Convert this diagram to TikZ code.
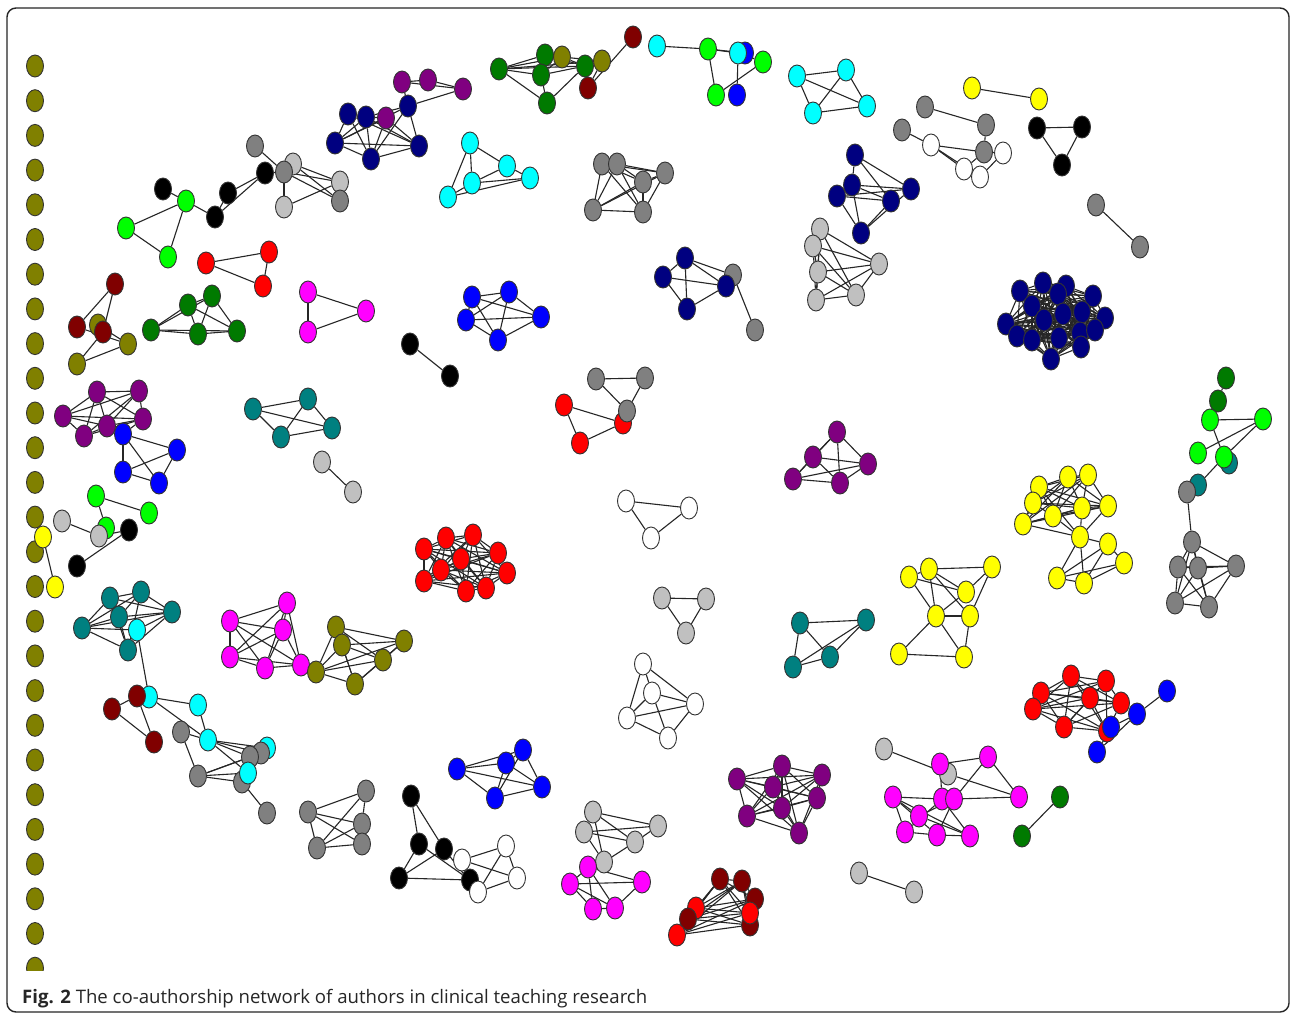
\documentclass[tikz,border=0pt]{standalone}
\usepackage{fontspec}
\newfontfamily\capfont{Open Sans}
\usepackage{tikz}
\usetikzlibrary{shapes.geometric,backgrounds}
\definecolor{cOl}{HTML}{808000}
\definecolor{cDg}{HTML}{007A00}
\definecolor{cLg}{HTML}{00FF00}
\definecolor{cCy}{HTML}{00FFFF}
\definecolor{cBl}{HTML}{0000FF}
\definecolor{cNv}{HTML}{000080}
\definecolor{cPu}{HTML}{800080}
\definecolor{cTe}{HTML}{008080}
\definecolor{cRd}{HTML}{FF0000}
\definecolor{cMr}{HTML}{800000}
\definecolor{cMg}{HTML}{FF00FF}
\definecolor{cYe}{HTML}{FFFF00}
\definecolor{cGy}{HTML}{808080}
\definecolor{cSv}{HTML}{C0C0C0}
\tikzset{
  au/.style={ellipse, draw=black!80, line width=0.9pt, inner sep=0pt, minimum width=17pt, minimum height=22pt},
  ol/.style={au, fill=cOl}, dg/.style={au, fill=cDg}, lg/.style={au, fill=cLg},
  cy/.style={au, fill=cCy}, bl/.style={au, fill=cBl}, nv/.style={au, fill=cNv},
  pu/.style={au, fill=cPu}, te/.style={au, fill=cTe}, rd/.style={au, fill=cRd},
  mr/.style={au, fill=cMr}, mg/.style={au, fill=cMg}, ye/.style={au, fill=cYe},
  gy/.style={au, fill=cGy}, sv/.style={au, fill=cSv}, wh/.style={au, fill=white},
  bk/.style={au, fill=black},
  tie/.style={draw=black!85, line width=1.1pt},
  frame/.style={draw=black!85, line width=1.4pt, rounded corners=9pt},
}
\newcommand{\linkall}[2]{%
  \foreach \a in {1,...,#2}{\foreach \b in {1,...,#2}{\ifnum\a<\b\relax\draw[tie] (#1\a) -- (#1\b);\fi}}}
\begin{document}
\begin{tikzpicture}[x=1pt,y=-1pt]
\useasboundingbox (0,0) rectangle (1290,1014);
\begin{pgfonlayer}{background}
\fill[white] (0,0) rectangle (1290,1014);
\end{pgfonlayer}
\draw[frame] (7,8) rectangle (1289,1012);
\node[anchor=base west, inner sep=0pt, text=black!85, font=\capfont\fontsize{18.6}{22}\selectfont] (cap) at (22,1003)
  {\textbf{Fig. 2} The co-authorship network of authors in clinical teaching research};
% isolated authors
\begin{scope}
\clip (0,0) rectangle (1290,970);
\foreach \i in {0,...,26} \node[ol] (o\i) at (35,{66+34.7*\i}) {};
\end{scope}
% upper arc
\foreach \n/\s/\x/\y in {g1/gy/255/146, k4/bk/265/173, g2/sv/293/164, g3/gy/284/172, g4/sv/340/182, g5/gy/340/201,
  g6/sv/284/207, k1/bk/163/189, k2/bk/228/193, k3/bk/215/217, l1/lg/186/201, l2/lg/126/228, l3/lg/168/257,
  r1/rd/206/263, r2/rd/269/252, r3/rd/263/286, m1/mg/308/292, m2/mg/366/311, m3/mg/308/332,
  e1/mr/115/284, e3/ol/98/325, e2/mr/77/327, e4/mr/103/332, e5/ol/128/344, e6/ol/77/364,
  n1/nv/348/114, n2/nv/366/117, p4/pu/386/118, n3/nv/408/106, n4/nv/335/143, n5/nv/371/159, n6/nv/419/146,
  p1/pu/402/82, p2/pu/428/80, p3/pu/463/89,
  q1/dg/499/69, q2/dg/545/55, q3/dg/541/75, q6/ol/562/57, q4/dg/585/66, q7/ol/602/61, q8/mr/588/88, q5/dg/547/103, q9/mr/633/37,
  c1/cy/657/46, c2/lg/708/49, c3/bl/745/53, c4/cy/738/53, c5/lg/763/62, c6/lg/716/95, c7/bl/737/95,
  t1/cy/470/143, t2/cy/507/166, t3/cy/530/178, t4/cy/472/183, t5/cy/448/197,
  v1/nv/685/258, v2/nv/663/277, v5/gy/733/275, v3/nv/726/286, v4/nv/687/309, v6/gy/755/330,
  x1/nv/855/155, x2/nv/852/185, x3/nv/837/196, x5/nv/911/189, x4/nv/891/201, x6/nv/861/233,
  z1/ye/972/88, z2/ye/1039/99, z3/gy/925/107, z4/gy/986/125, z5/gy/902/130, z6/wh/931/145, z8/wh/1003/153,
  z7/gy/984/152, z9/wh/964/169, z10/wh/980/177, a1/bk/1037/128, a2/bk/1082/127, a3/bk/1062/165,
  a4/gy/1096/205, a5/gy/1140/247}
  \node[\s] (\n) at (\x,\y) {};
\foreach \i/\x/\y in {1/212/296, 2/188/305, 3/151/330, 4/198/334, 5/237/331} \node[dg] (D\i) at (\x,\y) {};
\foreach \i/\x/\y in {1/797/76, 2/846/70, 3/813/113, 4/867/106} \node[cy] (S\i) at (\x,\y) {};
\foreach \i/\x/\y in {1/602/164, 2/617/164, 3/665/173, 4/643/182, 5/593/210, 6/643/212} \node[gy] (U\i) at (\x,\y) {};
\foreach \i/\x/\y in {1/472/297, 2/509/292, 3/466/320, 4/541/317, 5/498/340} \node[bl] (W\i) at (\x,\y) {};
\foreach \i/\x/\y in {1/820/229, 2/813/246, 3/818/272, 4/816/300, 5/856/295, 6/879/264} \node[sv] (Y\i) at (\x,\y) {};
\foreach \i/\x/\y in {1/1020/291, 2/1043/283, 3/1066/286, 4/1093/296, 5/1058/294, 6/1032/306, 7/1082/312,
  8/1105/318, 9/1006/324, 10/1044/320, 11/1063/314, 12/1017/336, 13/1032/340, 14/1059/338, 15/1080/333,
  16/1051/359, 17/1081/347, 18/1095/330} \node[nv] (B\i) at (\x,\y) {};
% left side
\foreach \i/\x/\y in {1/97/392, 2/139/391, 3/63/416, 4/143/419, 5/107/426, 6/84/436} \node[pu] (H\i) at (\x,\y) {};
\foreach \i/\x/\y in {1/253/409, 2/308/399, 3/281/437, 4/332/428} \node[te] (J\i) at (\x,\y) {};
\foreach \i/\x/\y in {1/110/598, 2/141/592, 3/119/617, 4/172/612, 5/82/628, 6/128/650} \node[te] (T\i) at (\x,\y) {};
\foreach \i/\x/\y in {1/287/603, 2/230/621, 3/283/630, 4/230/657, 5/265/668, 6/301/665} \node[mg] (M\i) at (\x,\y) {};
\foreach \i/\x/\y in {1/336/627, 2/342/645, 3/404/641, 4/383/660, 5/316/672, 6/355/684} \node[ol] (L\i) at (\x,\y) {};
\foreach \n/\s/\x/\y in {i1/bl/123/434, i2/bl/177/450, i3/bl/123/472, i4/bl/159/483, j5/sv/322/462, j6/sv/353/492,
  f1/lg/96/496, f2/lg/149/513, f3/lg/106/528, f4/sv/62/521, f5/sv/99/536, f6/bk/129/530, f7/bk/77/566,
  f8/ye/43/537, f9/ye/55/587, cT/cy/137/630}
  \node[\s] (\n) at (\x,\y) {};
% centre
\foreach \n/\s/\x/\y in {bb1/bk/410/344, bb2/bk/450/376, rr1/rd/564/405, rr2/rd/623/423, rr3/rd/580/443,
  gr1/gy/596/379, gr2/gy/645/378, gr3/gy/627/411, wt1/wh/626/501, wt2/wh/689/508, wt3/wh/651/538,
  lt1/sv/662/598, lt2/sv/706/599, lt3/sv/686/633, wc1/wh/643/664, wc2/wh/652/693, wc3/wh/627/718,
  wc4/wh/695/704, wc5/wh/668/738}
  \node[\s] (\n) at (\x,\y) {};
\foreach \i/\x/\y in {1/837/432, 2/813/457, 3/793/479, 4/840/483, 5/868/464} \node[pu] (P\i) at (\x,\y) {};
\foreach \i/\x/\y in {1/424/549, 2/446/538, 3/473/535, 4/498/553, 5/461/559, 6/441/570, 7/507/573,
  8/424/581, 9/466/591, 10/486/588} \node[rd] (R\i) at (\x,\y) {};
\foreach \i/\x/\y in {1/800/623, 2/866/620, 3/793/667, 4/830/657} \node[te] (C\i) at (\x,\y) {};
% right side
\foreach \n/\s/\x/\y in {dg1/dg/1226/378, dg2/dg/1218/401, lg1/lg/1210/420, lg2/lg/1263/419, lg3/lg/1198/453,
  te1/te/1229/463, lg4/lg/1224/457, te2/te/1198/485, gy1/gy/1187/492}
  \node[\s] (\n) at (\x,\y) {};
\foreach \i/\x/\y in {1/1192/542, 2/1178/567, 3/1198/568, 4/1236/566, 5/1175/603, 6/1209/607} \node[gy] (G\i) at (\x,\y) {};
\foreach \i/\x/\y in {1/1039/487, 2/1068/477, 3/1088/475, 4/1033/503, 5/1053/516, 6/1082/508, 7/1108/506,
  8/1023/524, 9/1080/537, 10/1108/544, 11/1124/563, 12/1057/578, 13/1084/583} \node[ye] (A\i) at (\x,\y) {};
\foreach \i/\x/\y in {1/909/577, 2/929/569, 3/992/567, 4/966/592, 5/936/616, 6/970/616, 7/899/654, 8/964/657}
  \node[ye] (E\i) at (\x,\y) {};
% lower arc
\foreach \n/\s/\x/\y in {cl1/cy/149/697, er1/mr/112/709, er2/mr/137/696, er3/mr/154/742, cl2/cy/198/705,
  gl1/gy/181/732, cl3/cy/208/740, cl4/cy/267/748, gl3/gy/261/753, gl4/gy/250/757, gl2/gy/198/776,
  gl5/gy/242/782, cl5/cy/248/773, gl6/gy/267/813,
  gb1/gy/308/812, gb2/gy/366/791, gb3/gy/362/824, gb4/gy/362/844, gb5/gy/317/848,
  bk1/bk/411/796, bk2/bk/419/844, bk3/bk/399/878, bk4/bk/444/849, wb1/wh/462/860, wb2/wh/506/846,
  bk5/bk/470/880, wb3/wh/517/878, wb4/wh/478/892,
  ls1/sv/593/812, ls2/sv/584/832, ls3/sv/658/826, ls4/sv/635/842, ls5/sv/604/862,
  mb1/mg/588/867, mb2/mg/570/884, mb3/mg/642/882, mb4/mg/593/909, mb5/mg/615/908,
  sR1/sv/884/749, sR2/sv/948/774, mR1/mg/940/764, mR2/mg/988/757, mR3/mg/1019/797, mR4/mg/893/797,
  mR5/mg/942/799, mR6/mg/954/799, mR7/mg/919/816, mR8/mg/905/832, mR9/mg/937/835, mR10/mg/970/836,
  dR1/dg/1060/797, dR2/dg/1022/836, sR3/sv/859/873, sR4/sv/914/892}
  \node[\s] (\n) at (\x,\y) {};
\foreach \i/\x/\y in {1/457/769, 2/506/763, 3/523/750, 4/542/787, 5/495/798} \node[bl] (V\i) at (\x,\y) {};
\foreach \i/\x/\y in {1/737/779, 2/782/766, 3/822/775, 4/773/787, 5/817/798, 6/782/808, 7/747/816, 8/799/833}
  \node[pu] (Q\i) at (\x,\y) {};
\foreach \i/\s/\x/\y in {1/rd/696/908, 2/mr/720/879, 3/mr/742/881, 4/mr/755/899, 5/mr/688/919, 6/rd/677/935,
  7/mr/750/925, 8/rd/750/913} \node[\s] (K\i) at (\x,\y) {};
\foreach \i/\x/\y in {1/1071/676, 2/1106/681, 3/1041/693, 4/1033/709, 5/1090/698, 6/1121/703, 7/1064/727,
  8/1107/731} \node[rd] (X\i) at (\x,\y) {};
\foreach \n/\x/\y in {bR1/1167/691, bR2/1137/714, bR3/1111/727, bR4/1097/752} \node[bl] (\n) at (\x,\y) {};
% ties
\begin{pgfonlayer}{background}
\foreach \p/\q in {k1/l1, l1/l2, l1/l3, l2/l3, l1/k3, k3/k2, k3/k4, k2/k4, g1/g3, k4/g3, g2/g4, g2/g5, g3/g4,
  g3/g5, g3/g6, g6/g4, g2/g3, r1/r2, r1/r3, r2/r3, m1/m2, m1/m3, m2/m3,
  e1/e2, e1/e4, e2/e5, e3/e5, e6/e5, e6/e4,
  p1/p2, p2/p3, p1/p3, p1/n3, n3/p3, n1/n2, n1/n4, n1/n5, n1/n6, n2/n4, n2/n5, n2/n6, n2/p4, n4/n5, n4/n6,
  n5/n6, n3/n6, n3/n2, n3/n4, p4/n6, p4/n4, n3/n5, p4/n5,
  q1/q2, q1/q3, q1/q4, q1/q5, q1/q6, q2/q4, q3/q4, q2/q3, q3/q5, q5/q4, q6/q4, q6/q7, q4/q7, q8/q9, q2/q6,
  q3/q6, q8/q7, q1/q7,
  c1/c2, c2/c4, c2/c6, c4/c7, c5/c6, c4/c5, c2/c3,
  t1/t2, t1/t4, t1/t5, t2/t3, t4/t3, t5/t3, t5/t4, t4/t2,
  v1/v2, v1/v4, v1/v3, v2/v3, v2/v4, v4/v3, v5/v6, v1/v5,
  x1/x2, x1/x5, x1/x4, x2/x3, x2/x4, x2/x5, x3/x4, x3/x5, x3/x6, x6/x4, x6/x5, x2/x6,
  z1/z2, z3/z4, z5/z6, z6/z7, z6/z9, z6/z10, z7/z8, z10/z8, z4/z7, z9/z7,
  a1/a2, a1/a3, a2/a3, a4/a5}
  \draw[tie] (\p) -- (\q);
\foreach \p/\q in {i1/i2, i1/i3, i1/i4, i3/i2, i3/i4, i4/i2, i1/H4, j5/j6,
  f1/f2, f1/f3, f4/f5, f6/f7, f8/f9, f5/f6, cT/T5, cT/T4, cT/cl1, M6/L5,
  bb1/bb2, gr1/gr2, gr1/gr3, gr2/gr3, rr1/rr2, rr1/rr3, rr3/rr2, wt1/wt2, wt1/wt3, wt2/wt3,
  lt1/lt2, lt1/lt3, lt2/lt3, wc1/wc2, wc1/wc3, wc1/wc4, wc2/wc4, wc2/wc3, wc2/wc5, wc3/wc4, wc3/wc5, wc5/wc4,
  lg1/lg2, lg1/lg4, lg3/lg2, lg4/lg2, lg4/te2, gy1/G1, dg1/dg2, dg2/lg1,
  A1/A9, A5/A9, A6/A9, A8/A9, A7/A9, A9/A10, A9/A12, A9/A13, A10/A11, A12/A13, A12/A11, A13/A11, A12/A10, A13/A10,
  E1/E2, E1/E4, E1/E5, E2/E3, E2/E4, E2/E6, E3/E4, E3/E6, E4/E5, E5/E6, E5/E7, E6/E8, E7/E8, E5/E8, E2/E5}
  \draw[tie] (\p) -- (\q);
\foreach \p/\q in {er1/er2, er1/er3, er2/er3, cl1/cl2, cl1/cl3, cl2/cl3, gl1/cl3, gl1/gl2, cl3/gl3, cl3/gl4,
  cl3/cl5, gl2/gl4, gl2/cl5, gl2/gl5, gl5/gl6, cl3/cl4, gl2/gl3,
  gb1/gb2, gb1/gb3, gb1/gb4, gb1/gb5, gb5/gb2, gb5/gb3, gb5/gb4, gb2/gb3, gb3/gb4,
  bk1/bk2, bk1/bk4, bk2/bk3, bk3/bk4, bk3/bk5, bk2/bk5, wb1/wb2, wb1/wb3, wb2/wb4, wb4/wb3, wb2/wb3, bk4/wb4,
  ls1/ls2, ls1/ls3, ls1/ls4, ls2/ls3, ls2/ls4, ls2/ls5, ls4/ls5, ls4/ls3, ls1/ls5,
  mb1/mb2, mb1/mb3, mb1/mb5, mb2/mb3, mb2/mb4, mb4/mb5, mb5/mb3, mb2/mb5, mb1/mb4,
  bR1/bR2, bR2/bR3, bR2/bR4, bR3/bR4, bR3/X8,
  sR1/sR2, sR2/mR3, mR1/mR2, mR2/mR3, mR2/mR6, mR4/mR5, mR6/mR3, mR4/mR7, mR4/mR8, mR4/mR10, mR7/mR10,
  mR8/mR9, mR9/mR10, mR5/mR10, mR6/mR9, mR7/mR6, mR8/mR5, mR1/mR5, mR4/mR9,
  dR1/dR2, sR3/sR4}
  \draw[tie] (\p) -- (\q);
\linkall{D}{5} \linkall{S}{4} \linkall{U}{6} \linkall{W}{5} \linkall{Y}{6} \linkall{B}{18}
\linkall{H}{6} \linkall{J}{4} \linkall{T}{6} \linkall{M}{6} \linkall{L}{6}
\linkall{P}{5} \linkall{R}{10} \linkall{C}{4} \linkall{G}{6} \linkall{A}{8}
\linkall{V}{5} \linkall{Q}{8} \linkall{K}{8} \linkall{X}{8}
\end{pgfonlayer}
\end{tikzpicture}
\end{document}
